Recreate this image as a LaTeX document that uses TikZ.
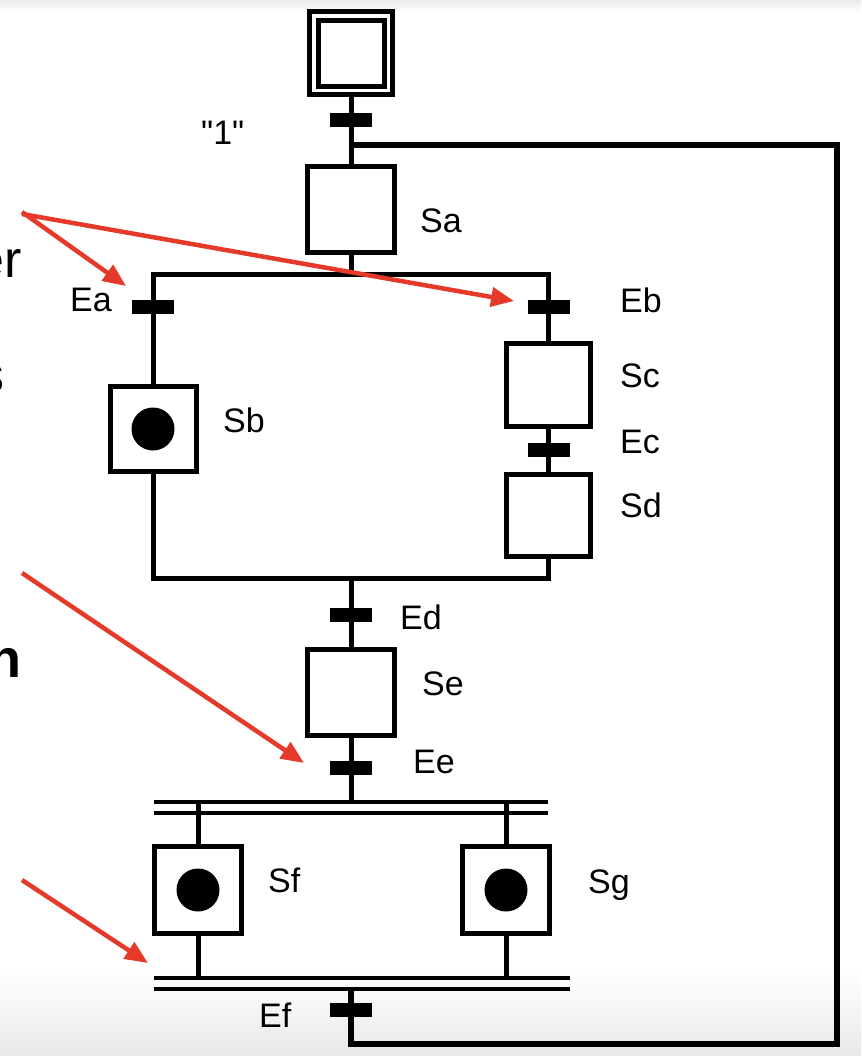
\documentclass[tikz,border=0pt]{standalone}
\usepackage{fontspec}
\setmainfont{Liberation Sans}
\newfontfamily\plainquote{Liberation Sans}
\usetikzlibrary{arrows.meta}
\definecolor{redarrow}{RGB}{229,57,41}
\begin{document}
\begin{tikzpicture}[x=1pt,y=-1pt,
  stepbox/.style={draw, line width=5pt, minimum width=87pt, minimum height=86pt, inner sep=0pt, fill=white},
  trans/.style={fill=black, minimum width=42pt, minimum height=14pt, inner sep=0pt},
  conn/.style={line width=5pt, line join=miter},
  loopline/.style={line width=6pt, line join=miter},
  dbl/.style={line width=4.5pt},
  lbl/.style={font=\fontsize{34}{40}\selectfont, inner sep=0pt, anchor=base west},
  frag/.style={font=\fontsize{52}{60}\selectfont, inner sep=0pt, anchor=base east},
  redarr/.style={draw=redarrow, line width=4.5pt, -{Triangle[length=23pt,width=19pt]}},
  token/.style={fill=black}
]
\useasboundingbox (0,0) rectangle (861,1056);
\clip (0,0) rectangle (861,1056);
% screenshot background fades
\shade[top color=white, bottom color=black!9] (0,970) rectangle (861,1056);
\shade[top color=black!8, bottom color=white] (0,0) rectangle (861,12);

% left text fragments (cut off at the edge, as in the reference)
\node[frag] (fragER) at (22,277) {er};
\node[frag] (fragS) at (5,392) {s};
\node[frag, font=\fontsize{54}{60}\selectfont\bfseries] (fragN) at (22,677) {n};

% steps
\node[draw, line width=5pt, minimum size=83pt, inner sep=0pt, fill=white] (init) at (351,53.5) {};
\node[draw, line width=5pt, minimum size=66pt, inner sep=0pt] (initin) at (351,53.5) {};
\node[stepbox] (Sa) at (351,209.5) {};
\node[stepbox, minimum width=86pt, minimum height=85pt] (Sb) at (153,429) {};
\node[stepbox, minimum width=84pt, minimum height=83pt] (Sc) at (548.5,385) {};
\node[stepbox, minimum width=84pt, minimum height=82pt] (Sd) at (548.5,515.5) {};
\node[stepbox] (Se) at (351,692) {};
\node[stepbox, minimum height=87pt] (Sf) at (198,890) {};
\node[stepbox, minimum height=87pt] (Sg) at (506,890) {};

% tokens
\fill[token] (Sb.center) circle (21.5);
\fill[token] (Sf.center) circle (21.5);
\fill[token] (Sg.center) circle (21.5);

% coordinates
\coordinate (loopTop) at (351,145);
\coordinate (divY) at (0,275);
\coordinate (convY) at (0,578);
\coordinate (par1a) at (0,802);

% connectors
\draw[conn] (init.south) -- (Sa.north);
\draw[conn] (Sa.south) -- (Sa.south |- divY);
\draw[conn] (Sb.north) -- (Sb.north |- divY) -- (Sc.north |- divY) -- (Sc.north);
\draw[conn] (Sc.south) -- (Sd.north);
\draw[conn] (Sb.south) -- (Sb.south |- convY) -- (Sd.south |- convY) -- (Sd.south);
\draw[conn] (Se.north) -- (Se.north |- convY);
\draw[conn] (Se.south) -- (Se.south |- par1a);
\draw[conn] (Sf.north) -- (Sf.north |- par1a);
\draw[conn] (Sg.north) -- (Sg.north |- par1a);
\draw[conn] (Sf.south) -- (Sf.south |- 0,978);
\draw[conn] (Sg.south) -- (Sg.south |- 0,978);
\draw[loopline] (351,989) -- (351,1044) -- (837,1044) -- (837,145) -- (loopTop);

% parallel double bars
\draw[dbl] (154,802) -- (548,802);
\draw[dbl] (154,813) -- (548,813);
\draw[dbl] (154,978) -- (570,978);
\draw[dbl] (154,989) -- (570,989);

% transitions
\node[trans] (T1) at (351,120) {};
\node[trans] (Ea) at (153,307) {};
\node[trans] (Eb) at (548.5,307) {};
\node[trans] (Ec) at (548.5,450) {};
\node[trans] (Ed) at (351,615) {};
\node[trans] (Ee) at (351,768) {};
\node[trans] (Ef) at (351,1010) {};

% labels
\node[lbl] (L1) at (201,145) {\plainquote "1"};
\node[lbl] (LSa) at (420,233) {Sa};
\node[lbl] (LEa) at (70,311) {Ea};
\node[lbl] (LEb) at (620,312) {Eb};
\node[lbl] (LSb) at (223,432) {Sb};
\node[lbl] (LSc) at (620,387) {Sc};
\node[lbl] (LEc) at (620,453) {Ec};
\node[lbl] (LSd) at (620,517) {Sd};
\node[lbl] (LEd) at (400,629) {Ed};
\node[lbl] (LSe) at (422,695) {Se};
\node[lbl] (LEe) at (413,773) {Ee};
\node[lbl] (LSf) at (268,892) {Sf};
\node[lbl] (LSg) at (588,893) {Sg};
\node[lbl] (LEf) at (259,1027) {Ef};

% red arrows
\coordinate (a1s) at (22,212);
\coordinate (a1e) at (126,286);
\coordinate (a2s) at (22,214);
\coordinate (a2e) at (514,301);
\coordinate (a3s) at (22,573);
\coordinate (a3e) at (304,763);
\coordinate (a4s) at (22,880);
\coordinate (a4e) at (148,963);
\draw[redarr] (a1s) -- (a1e);
\draw[redarr] (a2s) -- (a2e);
\draw[redarr] (a3s) -- (a3e);
\draw[redarr] (a4s) -- (a4e);
\end{tikzpicture}
\end{document}
